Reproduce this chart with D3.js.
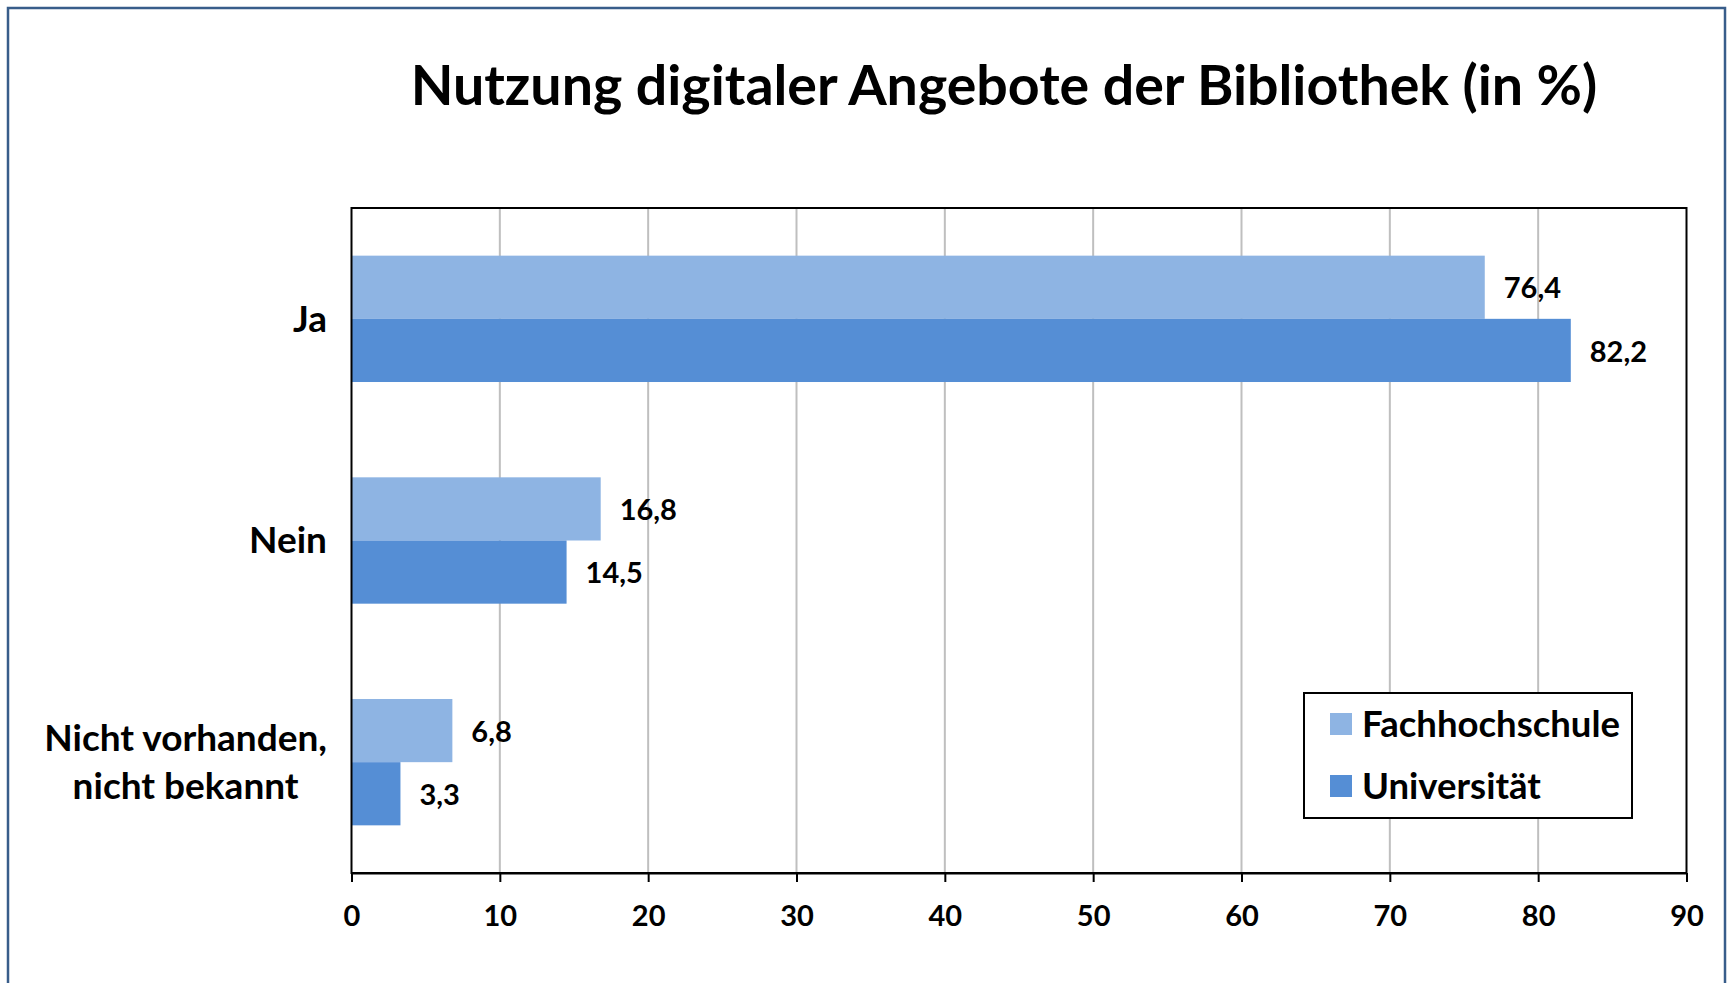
<!DOCTYPE html>
<html>
<head>
<meta charset="utf-8">
<script src="https://cdn.jsdelivr.net/npm/d3@7"></script>
<style>
  body { margin: 0; background: #fff; }
  text { font-family: Lato, "Open Sans", sans-serif; font-weight: bold; fill: #000; }
</style>
</head>
<body>
<svg id="chart" width="1733" height="983"></svg>
<script>
// data
const categories = ["Ja", "Nein", "Nicht vorhanden,\nnicht bekannt"];
const seriesNames = ["Fachhochschule", "Universität"];
const fachhochschule = [76.4, 16.8, 6.8];
const universitaet = [82.2, 14.5, 3.3];
const xTicks = [0, 10, 20, 30, 40, 50, 60, 70, 80, 90];
const seriesColors = ["#8EB4E3", "#558ED5"];
const title = "Nutzung digitaler Angebote der Bibliothek (in %)";

const svg = d3.select("#chart");
const plot = { left: 351.5, right: 1686.5, top: 208, bottom: 873 };

// outer chart frame (bottom edge runs off the picture)
svg.append("rect")
  .attr("x", 8).attr("y", 8)
  .attr("width", 1717).attr("height", 1000)
  .attr("fill", "#fff")
  .attr("stroke", "#385D8A")
  .attr("stroke-width", 2.5);

svg.append("text")
  .attr("x", 1004).attr("y", 105)
  .attr("text-anchor", "middle")
  .style("font-size", "55.5px")
  .text(title);

const x = d3.scaleLinear().domain([0, 90]).range([plot.left, plot.right]);
const y = d3.scaleBand().domain(categories)
  .range([plot.top, plot.bottom])
  .paddingInner(0.43).paddingOuter(0.215);
const ySub = d3.scaleBand().domain(seriesNames).range([0, y.bandwidth()]);

const rows = categories.map((c, i) => ({
  cat: c,
  vals: [
    { name: seriesNames[0], v: fachhochschule[i] },
    { name: seriesNames[1], v: universitaet[i] }
  ]
}));
const color = d3.scaleOrdinal().domain(seriesNames).range(seriesColors);
const fmt = v => d3.format(".1f")(v).replace(".", ",");

// gridlines
svg.append("g")
  .selectAll("line")
  .data(xTicks.slice(1, -1))
  .join("line")
  .attr("x1", d => x(d)).attr("x2", d => x(d))
  .attr("y1", plot.top).attr("y2", plot.bottom)
  .attr("stroke", "#BFBFBF")
  .attr("stroke-width", 2);

// bars
const groups = svg.append("g")
  .selectAll("g")
  .data(rows)
  .join("g")
  .attr("transform", d => `translate(0,${y(d.cat)})`);

groups.selectAll("rect")
  .data(d => d.vals)
  .join("rect")
  .attr("x", x(0))
  .attr("y", d => ySub(d.name))
  .attr("width", d => x(d.v) - x(0))
  .attr("height", ySub.bandwidth())
  .attr("fill", d => color(d.name));

groups.selectAll("text")
  .data(d => d.vals)
  .join("text")
  .attr("x", d => x(d.v) + 19)
  .attr("y", d => ySub(d.name) + ySub.bandwidth() / 2 + 1)
  .attr("dy", "0.35em")
  .style("font-size", "29px")
  .text(d => fmt(d.v));

// plot frame
svg.append("rect")
  .attr("x", plot.left).attr("y", plot.top)
  .attr("width", plot.right - plot.left)
  .attr("height", plot.bottom - plot.top)
  .attr("fill", "none")
  .attr("stroke", "#000")
  .attr("stroke-width", 2);

// x axis
const xAxis = svg.append("g")
  .attr("transform", `translate(0,${plot.bottom})`)
  .call(d3.axisBottom(x).tickValues(xTicks).tickSize(9).tickPadding(23).tickSizeOuter(0));
xAxis.select(".domain").attr("stroke", "#000").attr("stroke-width", 2);
xAxis.selectAll(".tick line").attr("stroke", "#000").attr("stroke-width", 2);
xAxis.selectAll(".tick text")
  .style("font-size", "29px")
  .style("font-family", "Lato, sans-serif")
  .attr("fill", "#000");

// category labels, right aligned; multi-line ones centred on their widest line
const labelRight = 327;
svg.append("g")
  .selectAll("text")
  .data(categories)
  .join("text")
  .style("font-size", "37px")
  .each(function(d) {
    const t = d3.select(this);
    const lines = d.split("\n");
    const cy = y(d) + y.bandwidth() / 2;
    const lh = 47.5;
    lines.forEach((ln, i) => {
      t.append("tspan")
        .attr("y", cy + (i - (lines.length - 1) / 2) * lh)
        .attr("dy", "0.35em")
        .text(ln);
    });
    const widths = [];
    t.selectAll("tspan").each(function() { widths.push(this.getComputedTextLength()); });
    const maxW = d3.max(widths);
    t.attr("text-anchor", "middle");
    t.selectAll("tspan").attr("x", labelRight - maxW / 2);
  });

// legend
const legend = svg.append("g").attr("transform", "translate(1304,693)");
legend.append("rect")
  .attr("width", 328).attr("height", 125)
  .attr("fill", "#fff")
  .attr("stroke", "#000")
  .attr("stroke-width", 2);
const li = legend.selectAll("g")
  .data(seriesNames)
  .join("g")
  .attr("transform", (d, i) => `translate(26,${31 + i * 62})`);
li.append("rect")
  .attr("x", 0).attr("y", -11)
  .attr("width", 22).attr("height", 22)
  .attr("fill", d => color(d));
li.append("text")
  .attr("x", 32)
  .attr("dy", "0.35em")
  .style("font-size", "36.5px")
  .text(d => d);
</script>
</body>
</html>
